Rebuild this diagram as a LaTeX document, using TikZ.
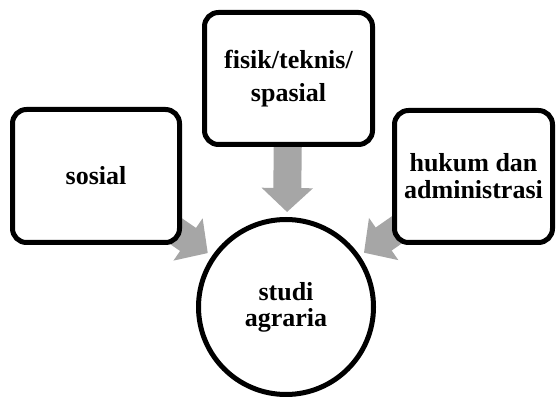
\documentclass[tikz,border=0pt]{standalone}
\usepackage{fontspec}
\setmainfont{Liberation Serif}
\usepackage{tikz}
\usetikzlibrary{arrows.meta,backgrounds}
\tikzstyle{box}=[draw=black, fill=white, line width=5pt, rounded corners=14pt, align=center, font=\fontsize{26}{27}\selectfont\bfseries]
\tikzstyle{hub}=[circle, draw=black, fill=white, line width=5pt, minimum size=175pt, align=center, font=\fontsize{26}{26}\selectfont\bfseries]
\tikzstyle{fat}=[draw=black!35, line width=28pt, -{Triangle[length=24pt,width=50pt]}, shorten >=95pt]

\begin{document}
\begin{tikzpicture}[x=1pt,y=1pt]
        \useasboundingbox (0,0) rectangle (556,396);
        \node[hub] (studi) at (286,89) {studi\\agraria};
        \node[box, minimum width=167pt, minimum height=133pt] (sos) at (96,220) {sosial};
        \node[box, minimum width=168pt, minimum height=132pt] (fis) at (288.5,317.5) {fisik/teknis/\\[6pt]spasial};
        \node[box, minimum width=158pt, minimum height=132pt] (huk) at (473.5,219.5) {hukum dan\\administrasi};
        \begin{scope}[on background layer]
        \draw[fat] (sos.center) -- (studi.center);
        \draw[fat] (fis.center) -- (studi.center);
        \draw[fat] (huk.center) -- (studi.center);
        \end{scope}
\end{tikzpicture}
\end{document}
